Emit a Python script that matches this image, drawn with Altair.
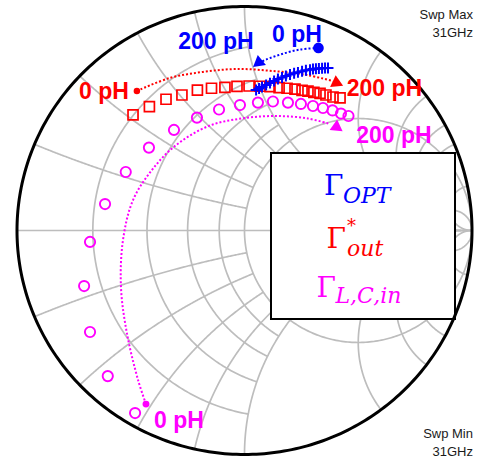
import math
import altair as alt
import pandas as pd

# Reflection coefficients at 31 GHz, inductance swept 0 pH -> 200 pH (10 pH steps)
OPT_RE = [0.367, 0.354, 0.341, 0.327, 0.314, 0.301, 0.288, 0.270, 0.253, 0.235, 0.218,
          0.200, 0.182, 0.165, 0.147, 0.130, 0.112, 0.095, 0.077, 0.064, 0.051]
OPT_IM = [0.725, 0.725, 0.724, 0.723, 0.722, 0.721, 0.718, 0.715, 0.711, 0.706, 0.702,
          0.696, 0.690, 0.683, 0.676, 0.667, 0.658, 0.650, 0.641, 0.634, 0.627]
OUT_RE = [-0.490, -0.418, -0.345, -0.275, -0.207, -0.145, -0.086, -0.033, 0.020, 0.068, 0.112,
          0.152, 0.187, 0.222, 0.253, 0.279, 0.305, 0.332, 0.358, 0.389, 0.420]
OUT_IM = [0.516, 0.553, 0.586, 0.605, 0.627, 0.635, 0.639, 0.643, 0.645, 0.644, 0.642,
          0.638, 0.635, 0.631, 0.626, 0.622, 0.617, 0.612, 0.605, 0.596, 0.592]
LCI_RE = [-0.481, -0.601, -0.679, -0.705, -0.679, -0.613, -0.522, -0.420, -0.310, -0.209, -0.112,
          -0.020, 0.059, 0.125, 0.191, 0.248, 0.301, 0.345, 0.387, 0.424, 0.457]
LCI_IM = [-0.815, -0.650, -0.453, -0.248, -0.051, 0.118, 0.261, 0.370, 0.449, 0.504, 0.540,
          0.560, 0.571, 0.576, 0.571, 0.565, 0.556, 0.547, 0.536, 0.522, 0.511]

# Sweep-direction guide curves (start point first)
OPT_ARROW_RE = [0.325, 0.244, 0.165, 0.095, 0.073]
OPT_ARROW_IM = [0.815, 0.808, 0.788, 0.763, 0.752]
OUT_ARROW_RE = [-0.473, -0.328, -0.182, -0.033, 0.125, 0.275, 0.389]
OUT_ARROW_IM = [0.623, 0.681, 0.708, 0.721, 0.712, 0.694, 0.667]
LCI_ARROW_RE = [-0.433, -0.468, -0.517, -0.543, -0.534, -0.490, -0.407, -0.306, -0.156,
                0.002, 0.147, 0.279, 0.376]
LCI_ARROW_IM = [-0.775, -0.667, -0.458, -0.252, -0.042, 0.136, 0.270, 0.377, 0.467,
                0.502, 0.511, 0.500, 0.475]

# Smith chart graticule values
R_INNER = [0.2, 0.4, 0.6, 0.8]
R_OUTER = [2.0, 3.0, 4.0, 5.0]
X_INNER = [0.2, 0.4, 0.6, 0.8]
X_OUTER = [2.0, 3.0, 4.0, 5.0]

BLUE = "#0000ff"
RED = "#ff0000"
MAGENTA = "#ff00ff"
GRID = "#bdbdbd"

W, H = 480, 459
X_DOM = [-244.5 / 227.5, (W - 244.5) / 227.5]
Y_DOM = [(230.5 - H) / 224.0, 230.5 / 224.0]

X = alt.X("gx:Q", scale=alt.Scale(domain=X_DOM, nice=False, zero=False), axis=None)
Y = alt.Y("gy:Q", scale=alt.Scale(domain=Y_DOM, nice=False, zero=False), axis=None)

INF = float("inf")


def gamma(z):
    return (z - 1) / (z + 1)


def r_curve(r, x_lo, x_hi, n=240):
    """Constant-resistance circle between two reactance values."""
    c, rho = r / (1 + r), 1 / (1 + r)

    def ang(x):
        if x == INF:
            return 0.0
        if x == -INF:
            return 2 * math.pi
        g = gamma(complex(r, x))
        a = math.atan2(g.imag, g.real - c)
        return a + 2 * math.pi if a < 0 else a

    a1, a2 = ang(x_hi), ang(x_lo)
    return [(c + rho * math.cos(a1 + (a2 - a1) * k / (n - 1)),
             rho * math.sin(a1 + (a2 - a1) * k / (n - 1))) for k in range(n)]


def x_curve(x, r_lo, r_hi, n=240):
    """Constant-reactance arc between two resistance values."""
    cy, rho = 1 / x, 1 / abs(x)

    def pt(r):
        return complex(1, 0) if r == INF else gamma(complex(r, x))

    g1, g2 = pt(r_lo), pt(r_hi)
    a1 = math.atan2(g1.imag - cy, g1.real - 1)
    a2 = math.atan2(g2.imag - cy, g2.real - 1)
    while a2 - a1 > math.pi:
        a2 -= 2 * math.pi
    while a1 - a2 > math.pi:
        a2 += 2 * math.pi
    return [(1 + rho * math.cos(a1 + (a2 - a1) * k / (n - 1)),
             cy + rho * math.sin(a1 + (a2 - a1) * k / (n - 1))) for k in range(n)]


curves = [[(-1.0, 0.0), (1.0, 0.0)]]
for r in R_INNER:
    curves.append(r_curve(r, -1.0, 1.0))
curves.append(r_curve(1.0, -INF, INF, 360))
for r in R_OUTER:
    curves.append(r_curve(r, -5.0, 5.0))
curves.append(r_curve(10.0, -INF, INF))
for x in X_INNER:
    curves.append(x_curve(x, 0.0, 1.0))
    curves.append(x_curve(-x, 0.0, 1.0))
for x in (1.0, 10.0):
    curves.append(x_curve(x, 0.0, INF))
    curves.append(x_curve(-x, 0.0, INF))
for x in X_OUTER:
    curves.append(x_curve(x, 0.0, 5.0))
    curves.append(x_curve(-x, 0.0, 5.0))

grid_rows = []
for i, pts in enumerate(curves):
    for k, (gx, gy) in enumerate(pts):
        grid_rows.append({"id": i, "k": k, "gx": gx, "gy": gy})
grid_df = pd.DataFrame(grid_rows)

rim_df = pd.DataFrame([{"k": k, "gx": math.cos(2 * math.pi * k / 360),
                        "gy": math.sin(2 * math.pi * k / 360)} for k in range(361)])

grid = alt.Chart(grid_df).mark_line(color=GRID, strokeWidth=1.7).encode(
    x=X, y=Y, detail="id:N", order="k:Q")
rim = alt.Chart(rim_df).mark_line(color="black", strokeWidth=3).encode(x=X, y=Y, order="k:Q")

# legend frame (Γ-plane corners)
BOX = {"gx": 0.1165, "gx2": 0.9253, "gy": 0.346, "gy2": -0.3951}
box = alt.Chart(pd.DataFrame([BOX])).mark_rect(
    fill="white", stroke="black", strokeWidth=2).encode(x=X, x2="gx2:Q", y=Y, y2="gy2:Q")


def pts_df(re, im):
    return pd.DataFrame({"k": range(len(re)), "gx": re, "gy": im})


def guide(re, im, color):
    return alt.Chart(pts_df(re, im)).mark_line(
        color=color, strokeWidth=2, strokeDash=[2, 2], interpolate="catmull-rom"
    ).encode(x=X, y=Y, order="k:Q")


def single(gx, gy):
    return pd.DataFrame({"gx": [gx], "gy": [gy]})


guides = [guide(OPT_ARROW_RE, OPT_ARROW_IM, BLUE),
          guide(OUT_ARROW_RE, OUT_ARROW_IM, RED),
          guide(LCI_ARROW_RE, LCI_ARROW_IM, MAGENTA)]

start_dots = [
    alt.Chart(single(OPT_ARROW_RE[0], OPT_ARROW_IM[0])).mark_point(
        shape="circle", filled=True, color=BLUE, size=115, opacity=1).encode(x=X, y=Y),
    alt.Chart(single(OUT_ARROW_RE[0], OUT_ARROW_IM[0])).mark_point(
        shape="circle", filled=True, color=RED, size=42, opacity=1).encode(x=X, y=Y),
    alt.Chart(single(LCI_ARROW_RE[0], LCI_ARROW_IM[0])).mark_point(
        shape="circle", filled=True, color=MAGENTA, size=48, opacity=1).encode(x=X, y=Y),
]

# arrow heads: position in Γ-plane, heading in screen degrees
HEADS = [(0.057, 0.7455, 141, BLUE), (0.411, 0.6563, 25, RED), (0.411, 0.4576, 35, MAGENTA)]
heads = [alt.Chart(single(gx, gy)).mark_point(
    shape="triangle-right", filled=True, color=c, size=170, angle=a, opacity=1
).encode(x=X, y=Y) for gx, gy, a, c in HEADS]

lci = alt.Chart(pts_df(LCI_RE, LCI_IM)).mark_point(
    shape="circle", filled=False, color=MAGENTA, size=105, strokeWidth=1.9, opacity=1
).encode(x=X, y=Y)
out = alt.Chart(pts_df(OUT_RE, OUT_IM)).mark_point(
    shape="square", filled=False, color=RED, size=100, strokeWidth=1.7, opacity=1
).encode(x=X, y=Y)
opt = alt.Chart(pts_df(OPT_RE, OPT_IM)).mark_point(
    shape="M-1,0L1,0M0,-1L0,1", filled=False, color=BLUE, size=120, strokeWidth=2, opacity=1
).encode(x=X, y=Y)


def text(txt, gx, gy, color, size, font="Liberation Sans", weight="bold",
         style="normal", align="center"):
    return alt.Chart(single(gx, gy)).mark_text(
        text=txt, color=color, fontSize=size, font=font, fontWeight=weight,
        fontStyle=style, align=align, baseline="alphabetic"
    ).encode(x=X, y=Y)


SERIF = "DejaVu Serif"
labels = [
    text("200 pH", -0.1253, 0.8103, BLUE, 23),
    text("0 pH", 0.2308, 0.8415, BLUE, 23),
    text("0 pH", -0.6176, 0.5871, RED, 23),
    text("200 pH", 0.6154, 0.6004, RED, 23),
    text("200 pH", 0.6571, 0.3906, MAGENTA, 23),
    text("0 pH", -0.2879, -0.8817, MAGENTA, 23),
    text("Swp Max", 1.0044, 0.9442, "#1a1a1a", 13, weight="normal", align="right"),
    text("31GHz", 1.0044, 0.8638, "#1a1a1a", 13, weight="normal", align="right"),
    text("Swp Min", 1.0044, -0.9263, "#1a1a1a", 13, weight="normal", align="right"),
    text("31GHz", 1.0044, -1.0067, "#1a1a1a", 13, weight="normal", align="right"),
    # legend entries
    text("Γ", 0.435, 0.158, BLUE, 28, font=SERIF, weight="normal", align="right"),
    text("OPT", 0.433, 0.123, BLUE, 22, font=SERIF, weight="normal", style="italic", align="left"),
    text("Γ", 0.446, -0.078, RED, 28, font=SERIF, weight="normal", align="right"),
    text("*", 0.451, -0.0045, RED, 18, font=SERIF, weight="normal", align="left"),
    text("out", 0.451, -0.116, RED, 22, font=SERIF, weight="normal", style="italic", align="left"),
    text("Γ", 0.402, -0.297, MAGENTA, 28, font=SERIF, weight="normal", align="right"),
    text("L,C,in", 0.400, -0.324, MAGENTA, 22, font=SERIF, weight="normal", style="italic",
         align="left"),
]

chart = alt.layer(
    grid, box, rim, *guides, lci, out, opt, *start_dots, *heads, *labels
).properties(width=W, height=H, padding=0, autosize="none").configure_view(stroke=None)

chart.save("out.html", embed_options={"renderer": "svg", "actions": False})
